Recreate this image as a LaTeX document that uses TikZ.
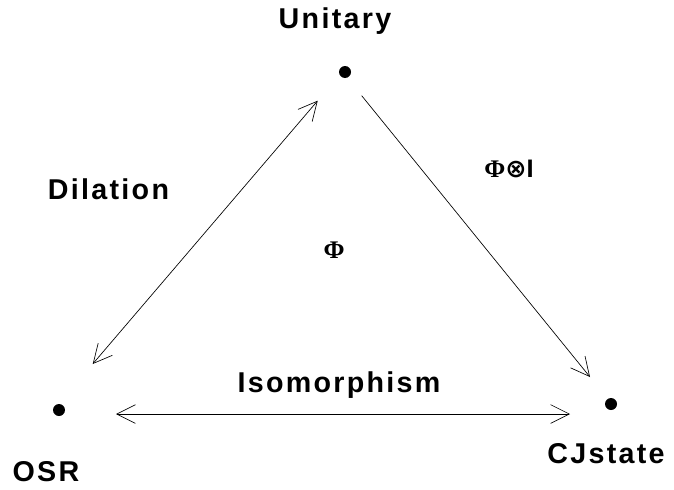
\documentclass[tikz,border=0pt]{standalone}
\usepackage{fontspec}
\usetikzlibrary{arrows.meta}
\newfontfamily\lblfont{Liberation Sans}[LetterSpace=8]
\newfontfamily\phifont{Liberation Serif}
\newfontfamily\symfont{DejaVu Sans}
\begin{document}
\begin{tikzpicture}[x=0.75pt,y=-0.75pt,
    vertex/.style={circle, fill=black, inner sep=0pt, minimum size=9pt},
    corner/.style={anchor=base, inner sep=0pt, font=\lblfont\bfseries\fontsize{21.5}{24}\selectfont},
    phi/.style={anchor=base, inner sep=0pt, font=\phifont\bfseries\fontsize{19}{22}\selectfont},
    map/.style={line width=0.5pt, -{Straight Barb[length=14pt, width=14pt]}},
    twoway/.style={line width=0.5pt, {Straight Barb[length=14pt, width=14pt]}-{Straight Barb[length=14pt, width=14pt]}}]
    \useasboundingbox (0,0) rectangle (674,489);

    % Corners
    \node[vertex] (unitary) at (345,72) {};
    \node[vertex] (osr) at (59,410) {};
    \node[vertex] (cjstate) at (611,404) {};
    \node[corner] (unitarylbl) at (335,28) {Unitary};
    \node[corner] (osrlbl) at (46,481) {OSR};
    \node[corner] (cjlbl) at (606,463) {CJstate};

    % Arrow ends
    \coordinate (dilA) at (92.7,364);
    \coordinate (dilB) at (317.7,100.7);
    \coordinate (phiA) at (361.7,95.7);
    \coordinate (phiB) at (590,377);
    \coordinate (isoA) at (116,414);
    \coordinate (isoB) at (570,414);

    % Maps
    \draw[twoway] (dilA) -- (dilB);
    \draw[map] (phiA) -- (phiB);
    \draw[twoway] (isoA) -- (isoB);

    % Labels
    \node[corner] (dillbl) at (108.5,199) {Dilation};
    \node[corner] (isolbl) at (339,392) {Isomorphism};
    \node[phi] (philbl) at (334,258) {Φ};
    \node[phi] (tensorlbl) at (509,177) {Φ{\symfont ⊗}{\lblfont I}};
\end{tikzpicture}
\end{document}
